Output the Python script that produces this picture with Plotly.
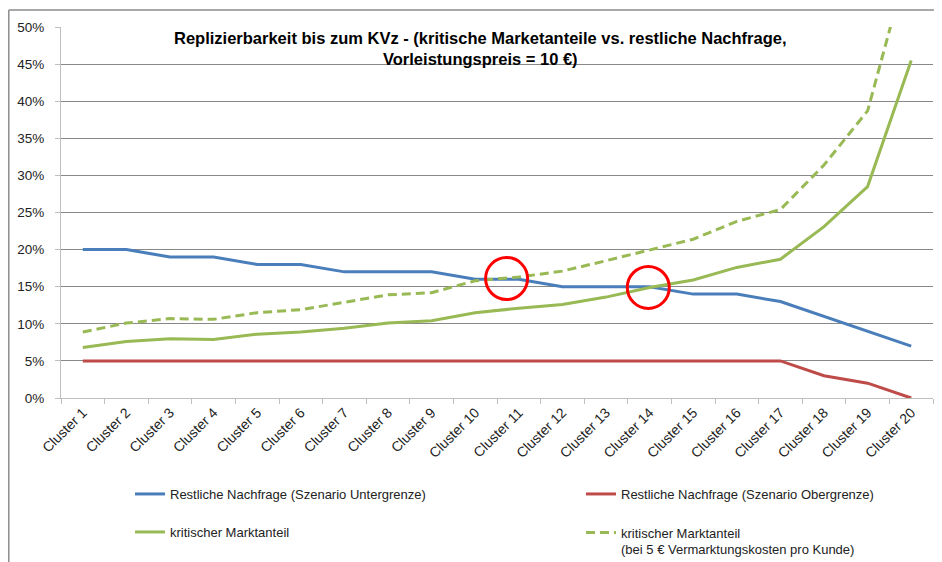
import plotly.graph_objects as go

categories = [f"Cluster {i}" for i in range(1, 21)]
restl_unter = [20, 20, 19, 19, 18, 18, 17, 17, 17, 16, 16, 15, 15, 15, 14, 14, 13, 11, 9, 7]
restl_ober = [5, 5, 5, 5, 5, 5, 5, 5, 5, 5, 5, 5, 5, 5, 5, 5, 5, 3, 2, 0]
krit = [6.8, 7.6, 8.0, 7.9, 8.6, 8.9, 9.4, 10.1, 10.4, 11.5, 12.1, 12.6, 13.6, 14.9, 15.9, 17.6, 18.7, 23.1, 28.5, 45.5]
krit_5 = [8.9, 10.1, 10.7, 10.6, 11.5, 11.9, 12.9, 13.9, 14.2, 15.8, 16.3, 17.1, 18.5, 20.0, 21.4, 23.8, 25.4, 31.4, 38.7, 60.3]
y_ticks = [0, 5, 10, 15, 20, 25, 30, 35, 40, 45, 50]
y_labels = [f"{v}%" for v in y_ticks]
circles = [(9.72, 16.1), (12.97, 14.9)]

FONT = "Liberation Sans"
BLUE = "#4A7EBB"
RED = "#BE4B48"
GREEN = "#98B954"

fig = go.Figure()
fig.add_trace(go.Scatter(x=categories, y=restl_unter, mode="lines", name="Restliche Nachfrage (Szenario Untergrenze)",
                         line=dict(color=BLUE, width=3), legend="legend"))
fig.add_trace(go.Scatter(x=categories, y=restl_ober, mode="lines", name="Restliche Nachfrage (Szenario Obergrenze)",
                         line=dict(color=RED, width=3), legend="legend2"))
fig.add_trace(go.Scatter(x=categories, y=krit, mode="lines", name="kritischer Marktanteil",
                         line=dict(color=GREEN, width=3), legend="legend3"))
fig.add_trace(go.Scatter(x=categories, y=krit_5, mode="lines",
                         name="kritischer Marktanteil<br>(bei 5 € Vermarktungskosten pro Kunde)",
                         line=dict(color=GREEN, width=3, dash="9px,5px"), legend="legend4"))

# page offset (browser body margin)
OFF = 8
W, H = 942 - OFF, 562 - OFF
# plot area in page pixels
PL, PR, PT, PB = 61, 933, 27, 398
L, R, T, B = PL - OFF, W - (PR - OFF), PT - OFF, H - (PB - OFF)
pw, ph = W - L - R, H - T - B


def px(xp):
    return (xp - OFF - L) / pw


def py(yp):
    return (H - B - (yp - OFF)) / ph


def cx(xp):
    return (xp - OFF) / W


def cy(yp):
    return 1 - (yp - OFF) / H


legend_common = dict(font=dict(family=FONT, size=13, color="#222"), bgcolor="rgba(0,0,0,0)",
                     itemwidth=30, xanchor="left", yanchor="middle", itemclick=False,
                     xref="container", yref="container")

fig.update_layout(
    width=W, height=H,
    margin=dict(l=L, r=R, t=T, b=B, autoexpand=False),
    paper_bgcolor="white", plot_bgcolor="white",
    font=dict(family=FONT, size=13, color="#222"),
    xaxis=dict(type="category", range=[-0.5, 19.5], showgrid=False, showline=True, linecolor="#BFBFBF",
               ticks="outside", tickson="boundaries", ticklen=5, tickcolor="#BFBFBF", tickangle=-45,
               tickfont=dict(family=FONT, size=14, color="#222"), zeroline=False, automargin=False),
    yaxis=dict(range=[0, 50], tickmode="array", tickvals=y_ticks, ticktext=y_labels, showgrid=True,
               gridcolor="#888888", gridwidth=1,
               showline=True, linecolor="#BFBFBF", ticks="outside", ticklen=5, tickcolor="#BFBFBF",
               ticklabelstandoff=8,
               tickfont=dict(family=FONT, size=13.5, color="#222"), zeroline=False, automargin=False),
    legend=dict(x=cx(130), y=cy(494), **legend_common),
    legend2=dict(x=cx(581), y=cy(494), **legend_common),
    legend3=dict(x=cx(130), y=cy(532), **legend_common),
    legend4=dict(x=cx(581), y=cy(541), valign="top", **legend_common),
    showlegend=True,
)

fig.add_annotation(text="<b>Replizierbarkeit bis zum KVz - (kritische Marketanteile vs. restliche Nachfrage,</b><br><b>Vorleistungspreis = 10 €)</b>",
                   xref="paper", yref="paper", x=px(480), y=py(48), xanchor="center", yanchor="middle",
                   showarrow=False, font=dict(family=FONT, size=16.5, color="black"), align="center")

# chart frame
fig.add_shape(type="line", xref="paper", yref="paper", x0=px(8.8), x1=px(960), y0=py(10), y1=py(10),
              line=dict(color="#8C8C8C", width=1.5))
fig.add_shape(type="line", xref="paper", yref="paper", x0=px(8.8), x1=px(8.8), y0=py(10), y1=py(580),
              line=dict(color="#8C8C8C", width=1.5))

for ccx, ccy in circles:
    fig.add_shape(type="circle", xref="x", yref="y", xsizemode="pixel", ysizemode="pixel",
                  xanchor=ccx, yanchor=ccy, x0=-21, x1=21, y0=-21, y1=21,
                  line=dict(color="#FF0000", width=3))

fig.write_html("out.html")
